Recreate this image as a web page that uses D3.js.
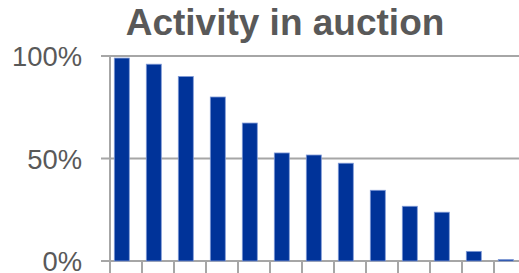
<!DOCTYPE html>
<html><head><meta charset="utf-8">
<script src="https://cdn.jsdelivr.net/npm/d3@7"></script>
<style>html,body{margin:0;padding:0;background:#fff;overflow:hidden}</style>
</head><body><svg id="c" width="519" height="273"></svg>
<script>
const title = "Activity in auction";
const categories = ["1","2","3","4","5","6","7","8","9","10","11","12","13"];
const values = [99, 96, 90, 80, 67.3, 52.7, 51.7, 47.7, 34.5, 26.7, 23.8, 4.7, 0.7];
const yTicks = [0, 50, 100];

const svg = d3.select("#c");
const x = d3.scaleBand().domain(categories).range([110, 526]).padding(0);
const y = d3.scaleLinear().domain([0, 100]).range([261, 56]);
const barW = 15, barOff = 4.3;
const grey = "#a6a6a6", textCol = "#595959";

svg.append("text").attr("x", 285).attr("y", 35).attr("text-anchor", "middle")
  .attr("font-family", "Liberation Sans, Arial, sans-serif").attr("font-weight", "bold")
  .attr("font-size", 37).attr("fill", textCol).text(title);

// gridlines
svg.selectAll("line.grid").data(yTicks).join("line").attr("class", "grid")
  .attr("x1", 101).attr("x2", 519).attr("y1", d => y(d)).attr("y2", d => y(d))
  .attr("stroke", grey).attr("stroke-width", 2);

// y labels
svg.selectAll("text.yl").data(yTicks).join("text").attr("class", "yl")
  .attr("x", 82).attr("y", d => y(d) + 10).attr("text-anchor", "end")
  .attr("font-family", "Liberation Sans, Arial, sans-serif").attr("font-size", 27.4)
  .attr("fill", textCol).text(d => d + "%");

// bars
svg.selectAll("rect.bar").data(values).join("rect").attr("class", "bar")
  .attr("x", (d, i) => x(categories[i]) + barOff).attr("width", barW)
  .attr("y", d => y(d)).attr("height", d => y(0) - y(d))
  .attr("fill", "#003399").attr("stroke", "#7f99d6").attr("stroke-width", 0.8);

// y axis line
svg.append("line").attr("x1", 110).attr("x2", 110).attr("y1", y(100)).attr("y2", 273)
  .attr("stroke", grey).attr("stroke-width", 2);

// x ticks
svg.selectAll("line.xt").data(categories).join("line").attr("class", "xt")
  .attr("x1", d => x(d)).attr("x2", d => x(d)).attr("y1", y(0)).attr("y2", 273)
  .attr("stroke", grey).attr("stroke-width", 2);
</script></body></html>
